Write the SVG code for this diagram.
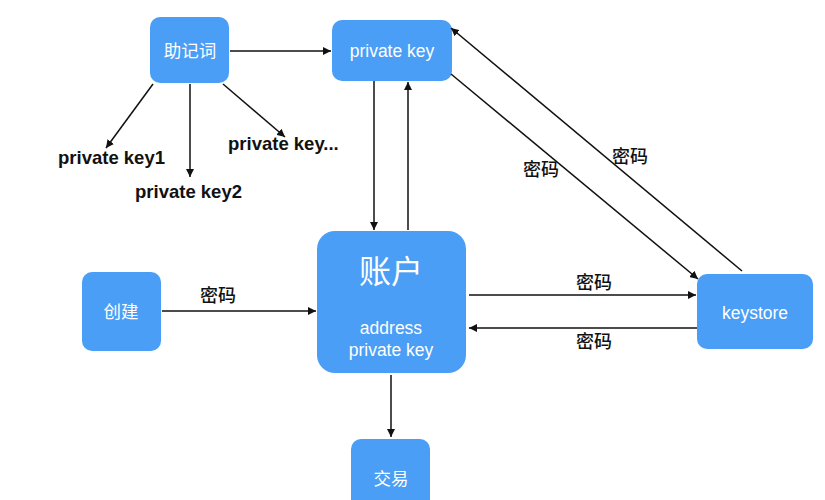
<svg xmlns="http://www.w3.org/2000/svg" width="825" height="500" viewBox="0 0 825 500">
<defs>
<marker id="ah" viewBox="0 0 10 10" refX="10" refY="5" markerWidth="8" markerHeight="8" markerUnits="userSpaceOnUse" orient="auto">
<path d="M0,0 L10,5 L0,10 z" fill="#111"/>
</marker>
</defs>
<style>
.box{fill:#4a9ef5}
.nt{fill:#fff;font-family:"Liberation Sans","Noto Sans CJK SC",sans-serif;text-anchor:middle;font-size:17.5px}
.big{font-size:32px}
.lb{fill:#111;font-family:"Liberation Sans","Noto Sans CJK SC",sans-serif;font-size:18px;font-weight:500}
.pk{fill:#111;font-family:"Liberation Sans",sans-serif;font-size:18.5px;font-weight:bold}
.ln{stroke:#111;stroke-width:1.5;fill:none;marker-end:url(#ah)}
</style>
<rect width="825" height="500" fill="#fff"/>
<g id="mnemonic"><rect class="box" x="150" y="17" width="79" height="66" rx="10"/><text class="nt" x="190" y="57">助记词</text></g>
<g id="privatekey"><rect class="box" x="332" y="20" width="120" height="61" rx="10"/><text class="nt" x="392" y="57">private key</text></g>
<g id="account"><rect class="box" x="317" y="231" width="149" height="142" rx="18"/><text class="nt big" x="391" y="283">账户</text><text class="nt" x="391" y="334">address</text><text class="nt" x="391" y="356">private key</text></g>
<g id="create"><rect class="box" x="82" y="272" width="79" height="79" rx="10"/><text class="nt" x="121" y="318">创建</text></g>
<g id="keystore"><rect class="box" x="697" y="274" width="116" height="75" rx="10"/><text class="nt" x="755" y="319">keystore</text></g>
<g id="trade"><rect class="box" x="351" y="439" width="79" height="80" rx="10"/><text class="nt" x="391" y="485">交易</text></g>
<g id="labels">
<text class="pk" x="58" y="164">private key1</text>
<text class="pk" x="135" y="198">private key2</text>
<text class="pk" x="228" y="150">private key...</text>
</g>
<g id="connectors">
<line class="ln" x1="230" y1="51" x2="331" y2="51"/>
<line class="ln" x1="153" y1="84" x2="106" y2="148"/>
<line class="ln" x1="190" y1="84" x2="190" y2="177"/>
<line class="ln" x1="223" y1="84" x2="285" y2="137"/>
<line class="ln" x1="374" y1="81" x2="374" y2="230"/>
<line class="ln" x1="408" y1="230" x2="408" y2="82"/>
<line class="ln" x1="162" y1="311" x2="316" y2="311"/>
<line class="ln" x1="469" y1="295" x2="696" y2="295"/>
<line class="ln" x1="697" y1="328" x2="469" y2="328"/>
<line class="ln" x1="391" y1="375" x2="391" y2="437"/>
<line class="ln" x1="451" y1="74" x2="698" y2="279"/>
<line class="ln" x1="742" y1="271" x2="451" y2="28"/>
<text class="lb" x="200" y="302">密码</text>
<text class="lb" x="576" y="289">密码</text>
<text class="lb" x="576" y="348">密码</text>
<text class="lb" x="523" y="176">密码</text>
<text class="lb" x="612" y="163">密码</text>
</g>
</svg>
